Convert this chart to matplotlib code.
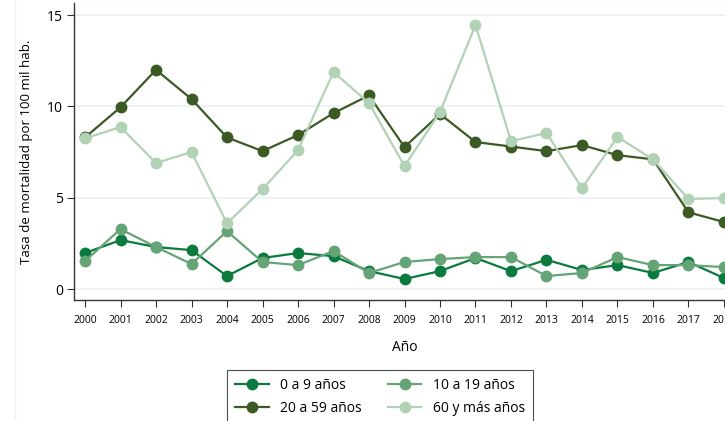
import matplotlib.pyplot as plt
from matplotlib.lines import Line2D

years = list(range(2000, 2019))

# tasas por 100 mil hab.
edad_0_9 = [1.97, 2.68, 2.30, 2.13, 0.71, 1.70, 1.97, 1.80, 0.98, 0.55,
            0.98, 1.70, 0.98, 1.60, 1.04, 1.31, 0.88, 1.48, 0.60]
edad_10_19 = [1.53, 3.28, 2.30, 1.37, 3.17, 1.48, 1.31, 2.08, 0.88, 1.48,
              1.64, 1.75, 1.75, 0.71, 0.88, 1.75, 1.31, 1.31, 1.20]
edad_20_59 = [8.30, 9.95, 12.0, 10.4, 8.30, 7.55, 8.43, 9.63, 10.6, 7.77,
              9.58, 8.05, 7.80, 7.55, 7.88, 7.33, 7.10, 4.20, 3.67]
edad_60_mas = [8.25, 8.87, 6.90, 7.50, 3.60, 5.47, 7.60, 11.88, 10.18, 6.73,
               9.69, 14.45, 8.10, 8.54, 5.53, 8.32, 7.10, 4.93, 4.98]

series = [
    ('0 a 9 años', edad_0_9, '#0b7a3e'),
    ('10 a 19 años', edad_10_19, '#65a476'),
    ('20 a 59 años', edad_20_59, '#3b5a24'),
    ('60 y más años', edad_60_mas, '#b2d2b5'),
]

plt.rcParams['font.family'] = ['Open Sans', 'DejaVu Sans']

fig = plt.figure(figsize=(7.25, 4.21), dpi=100)
ax = fig.add_axes([74 / 725, 121 / 421, 661 / 725, 297 / 421])

lines = []
for label, vals, color in series:
    ln, = ax.plot(years, vals, color=color, linewidth=1.6, marker='o',
                  markersize=7.5, label=label)
    lines.append(ln)

ax.set_xlim(1999.69, 2018.31)
ax.set_ylim(-0.6, 15.66)
ax.set_xticks(years)
ax.set_xticklabels([str(y) for y in years], fontsize=7.5)
ax.set_yticks([0, 5, 10, 15])
ax.tick_params(axis='y', labelsize=10, length=5, color='#333333', pad=3)
ax.tick_params(axis='x', length=5, color='#333333', pad=6)
ax.grid(axis='y', color='#eaf0f3', linewidth=1.2)
ax.set_axisbelow(True)

for side in ['top', 'right']:
    ax.spines[side].set_visible(False)
for side in ['left', 'bottom']:
    ax.spines[side].set_color('#333333')
    ax.spines[side].set_linewidth(1)

ax.set_ylabel('Tasa de mortalidad por 100 mil hab.', fontsize=9.5, labelpad=10)
ax.set_xlabel('Año', fontsize=10, labelpad=10)

fig.add_artist(Line2D([15 / 725, 15 / 725], [0, 1], color='#eef1f3', linewidth=1))

# legend filled by rows: 0-9, 10-19 / 20-59, 60+
order = [0, 2, 1, 3]
leg = fig.legend([lines[i] for i in order], [series[i][0] for i in order],
                 loc='upper left', bbox_to_anchor=(220 / 725, -0.1, 320 / 725, 1 - 363 / 421 + 0.1),
                 mode='expand', ncol=2, fontsize=10, frameon=True, fancybox=False,
                 edgecolor='#222222', handlelength=2.4, borderpad=0.6,
                 labelspacing=0.55, columnspacing=1.5)
leg.get_frame().set_linewidth(0.8)

fig.savefig('out.png', dpi=100)
